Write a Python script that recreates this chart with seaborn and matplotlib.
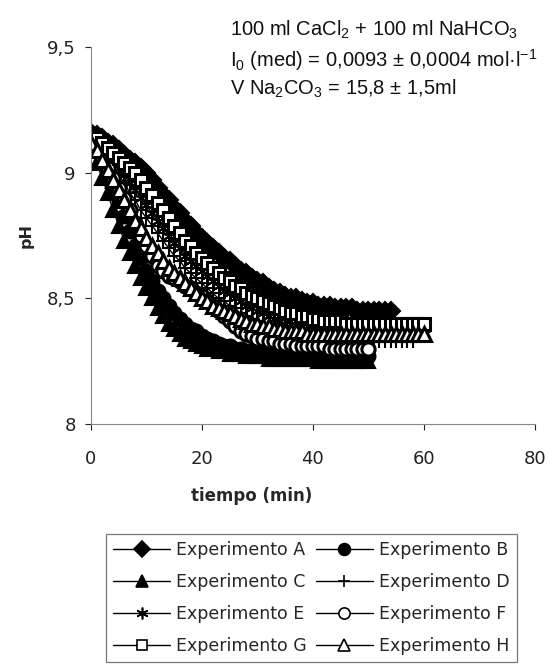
import pandas as pd
import seaborn as sns
import matplotlib.pyplot as plt

# pH readings, one per minute
ph_A = [9.16, 9.15, 9.14, 9.12, 9.11, 9.09, 9.07, 9.05, 9.04, 9.02, 9.00, 8.97, 8.94, 8.91, 8.89,
        8.86, 8.84, 8.81, 8.79, 8.76, 8.74, 8.72, 8.70, 8.68, 8.66, 8.65, 8.63, 8.61, 8.60, 8.58,
        8.57, 8.56, 8.54, 8.53, 8.52, 8.51, 8.50, 8.50, 8.49, 8.48, 8.48, 8.47, 8.47, 8.47, 8.46,
        8.46, 8.46, 8.46, 8.45, 8.45, 8.45, 8.45, 8.45, 8.45, 8.45]
ph_B = [9.15, 9.11, 9.06, 9.01, 8.95, 8.89, 8.83, 8.77, 8.71, 8.66, 8.61, 8.57, 8.53, 8.50, 8.47,
        8.44, 8.42, 8.40, 8.38, 8.37, 8.35, 8.34, 8.33, 8.32, 8.31, 8.31, 8.30, 8.30, 8.29, 8.29,
        8.29, 8.28, 8.28, 8.28, 8.28, 8.28, 8.28, 8.27, 8.27, 8.27, 8.27, 8.27, 8.27, 8.27, 8.27,
        8.27, 8.27, 8.27, 8.27, 8.27, 8.27]
ph_C = [9.10, 9.04, 8.98, 8.92, 8.85, 8.79, 8.73, 8.68, 8.63, 8.58, 8.54, 8.50, 8.46, 8.43, 8.40,
        8.38, 8.36, 8.34, 8.33, 8.32, 8.31, 8.30, 8.30, 8.29, 8.29, 8.28, 8.28, 8.28, 8.27, 8.27,
        8.27, 8.27, 8.26, 8.26, 8.26, 8.26, 8.26, 8.26, 8.26, 8.26, 8.26, 8.25, 8.25, 8.25, 8.25,
        8.25, 8.25, 8.25, 8.25, 8.25, 8.25]
ph_D = [9.15, 9.12, 9.09, 9.06, 9.03, 8.99, 8.96, 8.92, 8.89, 8.85, 8.82, 8.79, 8.76, 8.73, 8.70,
        8.67, 8.65, 8.62, 8.60, 8.58, 8.56, 8.54, 8.52, 8.50, 8.49, 8.47, 8.46, 8.44, 8.43, 8.42,
        8.41, 8.40, 8.39, 8.38, 8.37, 8.37, 8.36, 8.36, 8.35, 8.35, 8.35, 8.34, 8.34, 8.34, 8.34,
        8.34, 8.34, 8.34, 8.34, 8.34, 8.34, 8.34, 8.33, 8.33, 8.33, 8.33, 8.33, 8.33, 8.33]
ph_E = [9.14, 9.12, 9.10, 9.07, 9.05, 9.02, 8.99, 8.96, 8.93, 8.90, 8.87, 8.84, 8.81, 8.78, 8.75,
        8.72, 8.70, 8.67, 8.65, 8.63, 8.61, 8.59, 8.57, 8.55, 8.53, 8.52, 8.50, 8.49, 8.47, 8.46,
        8.45, 8.44, 8.43, 8.42, 8.41, 8.40, 8.40, 8.39, 8.39, 8.38, 8.38, 8.38, 8.37, 8.37, 8.37,
        8.37, 8.37, 8.37, 8.37, 8.37, 8.37, 8.37, 8.37, 8.37, 8.36, 8.36, 8.36, 8.36, 8.36, 8.36,
        8.36]
ph_F = [9.13, 9.10, 9.06, 9.02, 8.98, 8.94, 8.90, 8.85, 8.80, 8.75, 8.71, 8.67, 8.63, 8.61, 8.59,
        8.58, 8.57, 8.55, 8.54, 8.52, 8.51, 8.49, 8.47, 8.45, 8.43, 8.41, 8.39, 8.37, 8.36, 8.35,
        8.34, 8.34, 8.33, 8.33, 8.32, 8.32, 8.32, 8.31, 8.31, 8.31, 8.31, 8.31, 8.31, 8.30, 8.30,
        8.30, 8.30, 8.30, 8.30, 8.30, 8.30]
ph_G = [9.15, 9.14, 9.12, 9.10, 9.08, 9.06, 9.04, 9.02, 9.00, 8.97, 8.94, 8.91, 8.88, 8.85, 8.82,
        8.79, 8.76, 8.73, 8.71, 8.68, 8.66, 8.64, 8.62, 8.60, 8.58, 8.57, 8.55, 8.54, 8.52, 8.51,
        8.50, 8.49, 8.48, 8.47, 8.46, 8.45, 8.44, 8.44, 8.43, 8.43, 8.42, 8.42, 8.41, 8.41, 8.41,
        8.41, 8.40, 8.40, 8.40, 8.40, 8.40, 8.40, 8.40, 8.40, 8.40, 8.40, 8.40, 8.40, 8.40, 8.40,
        8.40]
ph_H = [9.12, 9.09, 9.05, 9.01, 8.97, 8.93, 8.89, 8.85, 8.81, 8.78, 8.74, 8.71, 8.68, 8.65, 8.62,
        8.60, 8.58, 8.56, 8.54, 8.52, 8.50, 8.49, 8.47, 8.46, 8.45, 8.44, 8.43, 8.42, 8.41, 8.40,
        8.40, 8.39, 8.39, 8.38, 8.38, 8.37, 8.37, 8.37, 8.37, 8.36, 8.36, 8.36, 8.36, 8.36, 8.36,
        8.36, 8.36, 8.36, 8.36, 8.36, 8.36, 8.36, 8.36, 8.36, 8.36, 8.36, 8.36, 8.36, 8.36, 8.36,
        8.36]

series = {"A": ph_A, "B": ph_B, "C": ph_C, "D": ph_D,
          "E": ph_E, "F": ph_F, "G": ph_G, "H": ph_H}
marker_of = {"A": "D", "B": "o", "C": "^", "D": "+", "E": (6, 2, 0), "F": "o", "G": "s", "H": "^"}
size_of = {"A": 9, "B": 10, "C": 10.5, "D": 10, "E": 10, "F": 9.5, "G": 8.5, "H": 10}
open_ones = ["F", "G", "H"]

rows = []
for k, vals in series.items():
    for t, v in enumerate(vals):
        rows.append({"exp": "Experimento " + k, "t": t, "pH": v})
df = pd.DataFrame(rows)

sns.set_style("white")
plt.rcParams["font.family"] = ["DejaVu Sans"]
plt.rcParams["mathtext.fontset"] = "custom"
plt.rcParams["mathtext.rm"] = "Liberation Sans"

fig = plt.figure(figsize=(5.48, 6.65), dpi=100)
ax = fig.add_axes([0.166, 0.3624, 0.81, 0.5666])

for k in series:
    name = "Experimento " + k
    fc = "white" if k in open_ones else "black"
    mew = 2.2 if k in open_ones else 1.5
    sns.lineplot(data=df[df["exp"] == name], x="t", y="pH", ax=ax, color="black",
                 marker=marker_of[k], markersize=size_of[k], markerfacecolor=fc,
                 markeredgecolor="black", markeredgewidth=mew, linewidth=1.0, label=name)

ax.set_xlim(0, 80)
ax.set_ylim(8, 9.5)
ax.set_xticks([0, 20, 40, 60, 80])
ax.set_yticks([8, 8.5, 9, 9.5])
ax.set_yticklabels(["8", "8,5", "9", "9,5"])
ax.tick_params(axis="both", labelsize=13, colors="#222222", length=4, width=0.8,
               direction="out", left=True, bottom=True, pad=7)
ax.tick_params(axis="x", pad=15)
for s in ["top", "right"]:
    ax.spines[s].set_visible(False)
for s in ["left", "bottom"]:
    ax.spines[s].set_color("#888888")
    ax.spines[s].set_linewidth(0.8)
ax.set_xlabel("tiempo (min)", fontsize=12, fontweight="bold")
ax.xaxis.set_label_coords(0.363, -0.167)
ax.set_ylabel("pH", fontsize=11.5, fontweight="bold")
ax.yaxis.set_label_coords(-0.13, 0.5)

note_font = ["Liberation Sans", "DejaVu Sans"]
fig.text(0.42, 0.955, "100 ml CaCl$_2$ + 100 ml NaHCO$_3$", fontsize=14.5, va="center",
         color="#111111", family=note_font)
fig.text(0.42, 0.910, "I$_0$ (med) = 0,0093 ± 0,0004 mol·l$^{-1}$", fontsize=14.5,
         va="center", color="#111111", family=note_font)
fig.text(0.42, 0.867, "V Na$_2$CO$_3$ = 15,8 ± 1,5ml", fontsize=14.5, va="center",
         color="#111111", family=note_font)

ax.get_legend().remove()
handles, labels = ax.get_legend_handles_labels()
order = [0, 2, 4, 6, 1, 3, 5, 7]
leg = fig.legend([handles[i] for i in order], [labels[i] for i in order],
                 loc="upper center", bbox_to_anchor=(0.568, 0.197), ncol=2, fontsize=12.5,
                 frameon=True, fancybox=False, edgecolor="#555555", handlelength=3.3,
                 handletextpad=0.35, columnspacing=0.5, labelspacing=0.8, borderpad=0.4,
                 borderaxespad=0, markerscale=0.85)
leg.get_frame().set_linewidth(0.9)
for ln in leg.get_lines():
    ln.set_markeredgewidth(1.2)

fig.savefig("out.png", dpi=100)
